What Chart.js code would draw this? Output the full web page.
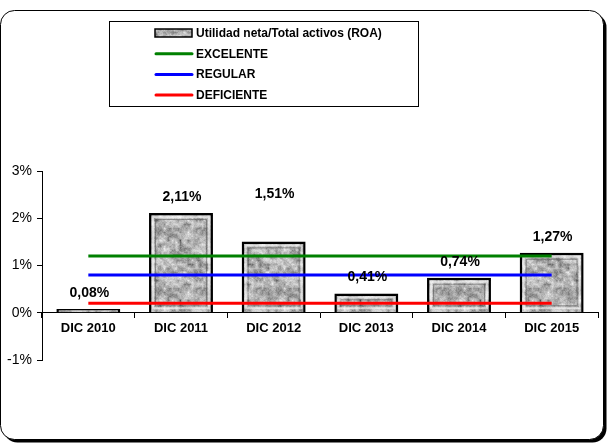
<!DOCTYPE html>
<html><head><meta charset="utf-8">
<script src="https://cdn.jsdelivr.net/npm/chart.js@4/dist/chart.umd.min.js"></script>
<style>html,body{margin:0;padding:0;background:#fff}#wrap{width:613px;height:444px;position:relative}</style>
</head><body><div id="wrap"><canvas id="c" width="613" height="444"></canvas></div>
<script>
const categories = ['DIC 2010', 'DIC 2011', 'DIC 2012', 'DIC 2013', 'DIC 2014', 'DIC 2015'];
const roaValues = [0.08, 2.11, 1.51, 0.41, 0.74, 1.27];
const excelente = [1.2, 1.2, 1.2, 1.2, 1.2, 1.2];
const regular = [0.8, 0.8, 0.8, 0.8, 0.8, 0.8];
const deficiente = [0.2, 0.2, 0.2, 0.2, 0.2, 0.2];
const yTickValues = [-1, 0, 1, 2, 3];
const seriesNames = ['Utilidad neta/Total activos (ROA)', 'EXCELENTE', 'REGULAR', 'DEFICIENTE'];

const FONT = 'Arial, "Liberation Sans", sans-serif';

// granite-like texture for the bars (style only)
function makeTexture() {
  const s = 60, cv = document.createElement('canvas');
  cv.width = s; cv.height = s;
  const c = cv.getContext('2d');
  const img = c.createImageData(s, s);
  const h = (x, y) => { const v = Math.sin(((x % s) + s) % s * 12.9898 + (((y % s) + s) % s) * 78.233) * 43758.5453; return v - Math.floor(v); };
  const smooth = (x, y, cell) => {
    const gx = Math.floor(x / cell), gy = Math.floor(y / cell);
    const fx = (x % cell) / cell, fy = (y % cell) / cell;
    const n = s / cell;
    const a = h(gx % n, gy % n), b = h((gx + 1) % n, gy % n), cc = h(gx % n, (gy + 1) % n), d = h((gx + 1) % n, (gy + 1) % n);
    return (a * (1 - fx) + b * fx) * (1 - fy) + (cc * (1 - fx) + d * fx) * fy;
  };
  for (let y = 0; y < s; y++) for (let x = 0; x < s; x++) {
    let v = 0.55 * smooth(x, y, 4) + 0.3 * smooth(x, y, 2) + 0.15 * h(x, y);
    let g = Math.round(80 + Math.pow(v, 0.8) * 170);
    const i = (y * s + x) * 4;
    img.data[i] = img.data[i + 1] = img.data[i + 2] = g; img.data[i + 3] = 255;
  }
  c.putImageData(img, 0, 0);
  return cv;
}
const texCanvas = makeTexture();
const ctx = document.getElementById('c').getContext('2d');
const barPattern = ctx.createPattern(texCanvas, 'repeat');

const framePlugin = {
  id: 'frame',
  beforeDraw(chart) {
    const c = chart.ctx;
    c.save();
    c.fillStyle = '#fff';
    c.fillRect(0, 0, chart.width, chart.height);
    c.beginPath();
    c.roundRect(3.5, 13.5, 603, 429, 14);
    c.fillStyle = '#000';
    c.fill();
    c.beginPath();
    c.roundRect(0.5, 10.5, 603, 429, 14);
    c.fillStyle = '#fff';
    c.fill();
    c.lineWidth = 1;
    c.strokeStyle = '#000';
    c.stroke();
    c.restore();
  },
  afterDatasetDraw(chart, args) {
    if (args.index !== 0) return;
    const c = chart.ctx;
    c.save();
    args.meta.data.forEach(el => {
      const p = el.getProps(['x', 'y', 'base', 'width'], true);
      const l = p.x - p.width / 2, r = p.x + p.width / 2, t = Math.min(p.y, p.base), b = Math.max(p.y, p.base);
      if (b - t < 10) return;
      c.strokeStyle = 'rgba(255,255,255,0.6)';
      c.lineWidth = 2;
      c.strokeRect(l + 4, t + 4, r - l - 8, b - t - 8);
      c.strokeStyle = 'rgba(40,40,40,0.4)';
      c.lineWidth = 1;
      c.strokeRect(l + 6.5, t + 6.5, r - l - 13, b - t - 13);
    });
    c.restore();
  },
  afterDatasetsDraw(chart) {
    const c = chart.ctx;
    const meta = chart.getDatasetMeta(0);
    c.save();
    c.font = 'bold 14px ' + FONT;
    c.fillStyle = '#000';
    c.textAlign = 'center';
    c.textBaseline = 'middle';
    meta.data.forEach((el, i) => {
      const v = chart.data.datasets[0].data[i];
      const txt = v.toFixed(2).replace('.', ',') + '%';
      const lift = i === 2 ? 47 : 16;
      c.fillText(txt, el.x + 1, el.y - lift);
    });
    c.restore();
  },
  afterDraw(chart) {
    const c = chart.ctx;
    c.save();
    c.strokeStyle = '#000';
    c.lineWidth = 1;
    c.strokeRect(109.5, 21.5, 309, 85);
    const ds = chart.data.datasets;
    c.font = 'bold 12px ' + FONT;
    c.textBaseline = 'middle';
    c.textAlign = 'left';
    c.fillStyle = '#000';
    ds.forEach((d, i) => {
      const y = 33 + i * 20.7;
      if (d.type === 'bar') {
        c.fillStyle = barPattern;
        c.fillRect(155, y - 4, 37, 8);
        c.strokeStyle = '#000';
        c.lineWidth = 1.5;
        c.strokeRect(155, y - 4, 37, 8);
      } else {
        c.strokeStyle = d.borderColor;
        c.lineWidth = 3;
        c.lineCap = 'round';
        c.beginPath();
        c.moveTo(156, y);
        c.lineTo(192, y);
        c.stroke();
      }
      c.fillStyle = '#000';
      c.fillText(d.label, 196, y + 0.5);
    });
    c.restore();
  }
};

new Chart(ctx, {
  data: {
    labels: categories,
    datasets: [
      { type: 'bar', label: seriesNames[0], data: roaValues, backgroundColor: barPattern, borderColor: '#000', borderWidth: 2.5, barPercentage: 0.69, categoryPercentage: 1, order: 1 },
      { type: 'line', label: seriesNames[1], data: excelente, borderColor: '#008000', borderWidth: 3, pointRadius: 0, fill: false, order: 0 },
      { type: 'line', label: seriesNames[2], data: regular, borderColor: '#0000ff', borderWidth: 3, pointRadius: 0, fill: false, order: 0 },
      { type: 'line', label: seriesNames[3], data: deficiente, borderColor: '#ff0000', borderWidth: 3, pointRadius: 0, fill: false, order: 0 }
    ]
  },
  options: {
    responsive: false,
    animation: false,
    devicePixelRatio: 1,
    layout: { padding: { left: 0, right: 15, top: 171, bottom: 84 } },
    plugins: { legend: { display: false }, tooltip: { enabled: false } },
    scales: {
      x: {
        position: { y: 0 },
        offset: true,
        grid: { drawOnChartArea: false, drawTicks: true, tickLength: 5, color: '#000', offset: true },
        border: { display: true, color: '#000', width: 1 },
        ticks: { font: { family: FONT, size: 13, weight: 'bold' }, color: '#000', padding: 3, maxRotation: 0 }
      },
      y: {
        min: -1, max: 3,
        afterFit(s) { s.width = 42; },
        afterBuildTicks(s) { s.ticks = yTickValues.map(v => ({ value: v })); },
        grid: { drawOnChartArea: false, drawTicks: true, tickLength: 5, color: '#000' },
        border: { display: true, color: '#000', width: 1 },
        ticks: { font: { family: FONT, size: 14 }, color: '#000', padding: 5, callback: v => v + '%' }
      }
    }
  },
  plugins: [framePlugin]
});
</script>
</body></html>
